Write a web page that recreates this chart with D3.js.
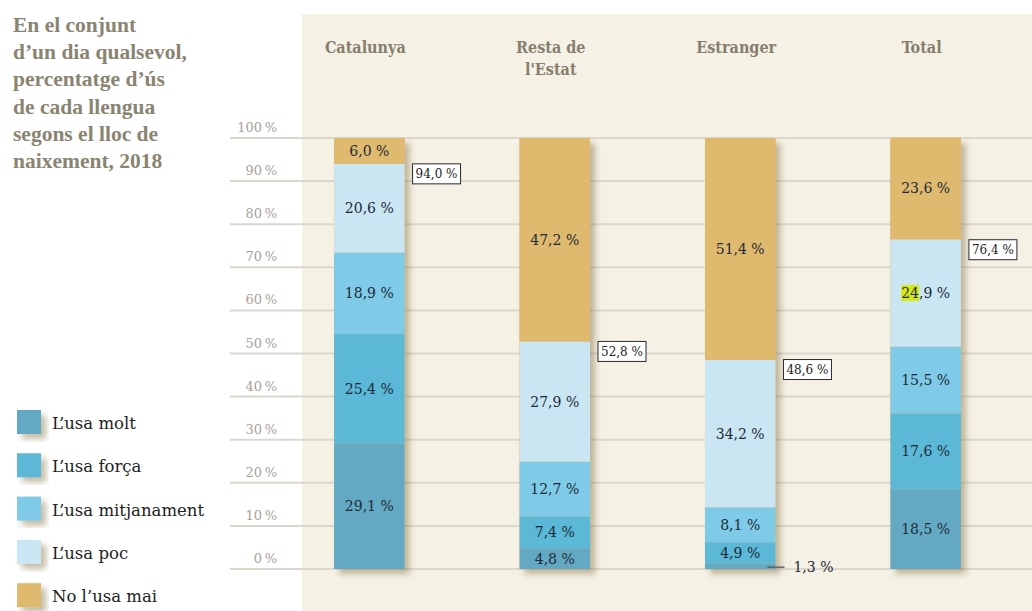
<!DOCTYPE html>
<html>
<head>
<meta charset="utf-8">
<script src="https://cdn.jsdelivr.net/npm/d3@7"></script>
<style>
  body { margin: 0; background: #fff; }
  svg { display: block; font-family: "DejaVu Serif", serif; }
</style>
</head>
<body>
<div id="vis"></div>
<script>
// ---- data ----
var categories = ['Catalunya', 'Resta de l\'Estat', 'Estranger', 'Total'];
var categoryLines = [['Catalunya'], ['Resta de', 'l\'Estat'], ['Estranger'], ['Total']];
var seriesNames = ['L’usa molt', 'L’usa força', 'L’usa mitjanament', 'L’usa poc', 'No l’usa mai'];
var molt        = [29.1, 4.8, 1.3, 18.5];
var forca       = [25.4, 7.4, 4.9, 17.6];
var mitjanament = [18.9, 12.7, 8.1, 15.5];
var poc         = [20.6, 27.9, 34.2, 24.9];
var mai         = [6.0, 47.2, 51.4, 23.6];
var usaTotal    = [94.0, 52.8, 48.6, 76.4];
var yTicks = [0, 10, 20, 30, 40, 50, 60, 70, 80, 90, 100];
var titleLines = ['En el conjunt', 'd’un dia qualsevol,', 'percentatge d’ús', 'de cada llengua', 'segons el lloc de', 'naixement, 2018'];

var colors = ['#64a9c3', '#5bb8d6', '#7fcbe7', '#cae6f3', '#dfb96e'];

var width = 1032, height = 611;

var svg = d3.select('#vis').append('svg')
    .attr('width', width)
    .attr('height', height);

var defs = svg.append('defs');
var shadow = defs.append('filter').attr('id', 'shadow')
    .attr('x', '-20%').attr('y', '-20%').attr('width', '150%').attr('height', '150%');
shadow.append('feDropShadow')
    .attr('dx', 5).attr('dy', 5).attr('stdDeviation', 3)
    .attr('flood-color', '#7a6a3e').attr('flood-opacity', 0.45);

// panel background
svg.append('rect')
    .attr('x', 302).attr('y', 14)
    .attr('width', width - 302).attr('height', height - 14)
    .attr('fill', '#f5f1e5');

var x = d3.scaleBand().domain(categories).range([297, 998]).paddingInner(0.62).paddingOuter(0.2);
var y = d3.scaleLinear().domain([0, 100]).range([569, 138]);

var locale = d3.formatLocale({decimal: ',', thousands: '.', grouping: [3], currency: ['', '€']});
var fmt = locale.format('.1f');
function pct(v) { return fmt(v) + ' %'; }

// gridlines + tick labels
var grid = svg.append('g');
grid.selectAll('line').data(yTicks).enter().append('line')
    .attr('x1', 230).attr('x2', width)
    .attr('y1', function(d) { return y(d); })
    .attr('y2', function(d) { return y(d); })
    .attr('stroke', '#dcd7cc').attr('stroke-width', 2);
grid.selectAll('text').data(yTicks).enter().append('text')
    .attr('x', 277)
    .attr('y', function(d) { return y(d) - 6; })
    .attr('text-anchor', 'end')
    .attr('fill', '#a8a299')
    .style('font-size', '13px')
    .text(function(d) { return d + '\u2009%'; });

// title
svg.append('text')
    .attr('x', 13).attr('y', 32)
    .attr('fill', '#8a8472')
    .style('font-family', '"Liberation Serif", serif')
    .style('font-size', '21.5px')
    .style('font-weight', 'bold')
    .selectAll('tspan').data(titleLines).enter().append('tspan')
    .attr('x', 13)
    .attr('dy', function(d, i) { return i === 0 ? 0 : 27.2; })
    .text(function(d) { return d; });

// category headers
var heads = svg.append('g').selectAll('text').data(categories).enter().append('text')
    .attr('x', function(d) { return x(d) + x.bandwidth() / 2 - 4; })
    .attr('y', 53)
    .attr('text-anchor', 'middle')
    .attr('fill', '#857e6d')
    .style('font-family', '"DejaVu Serif Condensed", "Liberation Serif", serif')
    .style('font-weight', 'bold')
    .style('font-size', '16px');
heads.selectAll('tspan').data(function(d, i) { return categoryLines[i]; }).enter().append('tspan')
    .attr('x', function() { return d3.select(this.parentNode).attr('x'); })
    .attr('dy', function(d, i) { return i === 0 ? 0 : 22; })
    .text(function(d) { return d; });

// stacked data
var series = [molt, forca, mitjanament, poc, mai];
var rows = categories.map(function(c, i) {
    var r = {cat: c};
    seriesNames.forEach(function(s, k) { r[s] = series[k][i]; });
    return r;
});
var stacked = d3.stack().keys(seriesNames)(rows);

// bar shadows (one per bar)
svg.append('g').selectAll('rect').data(rows).enter().append('rect')
    .attr('x', function(d) { return x(d.cat); })
    .attr('y', y(100))
    .attr('width', x.bandwidth())
    .attr('height', y(0) - y(100))
    .attr('fill', '#dfb96e')
    .attr('filter', 'url(#shadow)');

var layers = svg.append('g').selectAll('g').data(stacked).enter().append('g')
    .attr('fill', function(d, i) { return colors[i]; });
layers.selectAll('rect').data(function(d) { return d; }).enter().append('rect')
    .attr('x', function(d) { return x(d.data.cat); })
    .attr('y', function(d) { return y(d[1]); })
    .attr('width', x.bandwidth())
    .attr('height', function(d) { return y(d[0]) - y(d[1]); });

// segment labels
var labelG = svg.append('g')
    .attr('fill', '#1d2a38')
    .style('font-size', '14px');
stacked.forEach(function(layer, k) {
    layer.forEach(function(d) {
        var v = d[1] - d[0];
        var h = y(d[0]) - y(d[1]);
        var cx = x(d.data.cat) + x.bandwidth() / 2;
        if (h < 12) {
            // small segment: leader line + outside label
            var xr = x(d.data.cat) + x.bandwidth();
            var ly = y(d[0] + v / 2) + 1;
            labelG.append('line')
                .attr('x1', xr - 8).attr('x2', xr + 9)
                .attr('y1', ly).attr('y2', ly)
                .attr('stroke', '#5a6670').attr('stroke-width', 1.5);
            labelG.append('text')
                .attr('x', xr + 18).attr('y', ly + 5)
                .text(pct(v));
            return;
        }
        var t = labelG.append('text')
            .attr('x', cx)
            .attr('y', (y(d[0]) + y(d[1])) / 2 + 5)
            .attr('text-anchor', 'middle')
            .text(pct(v));
        if (d.data.cat === 'Total' && k === 3) {
            // highlighted digits as in the source
            var node = t.node();
            var full = node.getComputedTextLength();
            var sub = node.getSubStringLength(0, 2);
            labelG.insert('rect', function() { return node; })
                .attr('x', cx - full / 2)
                .attr('y', (y(d[0]) + y(d[1])) / 2 - 8)
                .attr('width', sub)
                .attr('height', 16)
                .attr('fill', '#d6ea12');
        }
    });
});

// boxed cumulative labels
var boxes = svg.append('g').selectAll('g').data(categories).enter().append('g')
    .attr('transform', function(d, i) {
        return 'translate(' + (x(d) + x.bandwidth() + 8) + ',' + y(usaTotal[i]) + ')';
    });
boxes.append('rect')
    .attr('width', 48).attr('height', 20)
    .attr('fill', '#fff')
    .attr('stroke', '#2a2a2a').attr('stroke-width', 1);
boxes.append('text')
    .attr('x', 3).attr('y', 14.5)
    .attr('fill', '#222')
    .style('font-size', '12px')
    .text(function(d, i) { return pct(usaTotal[i]); });

// legend
var legend = svg.append('g').selectAll('g').data(seriesNames).enter().append('g')
    .attr('transform', function(d, i) { return 'translate(17,' + (410 + i * 43.3) + ')'; });
legend.append('rect')
    .attr('width', 24).attr('height', 24)
    .attr('fill', function(d, i) { return colors[i]; })
    .attr('filter', 'url(#shadow)');
legend.append('text')
    .attr('x', 35).attr('y', 19)
    .attr('fill', '#222')
    .style('font-size', '16.5px')
    .text(function(d) { return d; });
</script>
</body>
</html>
